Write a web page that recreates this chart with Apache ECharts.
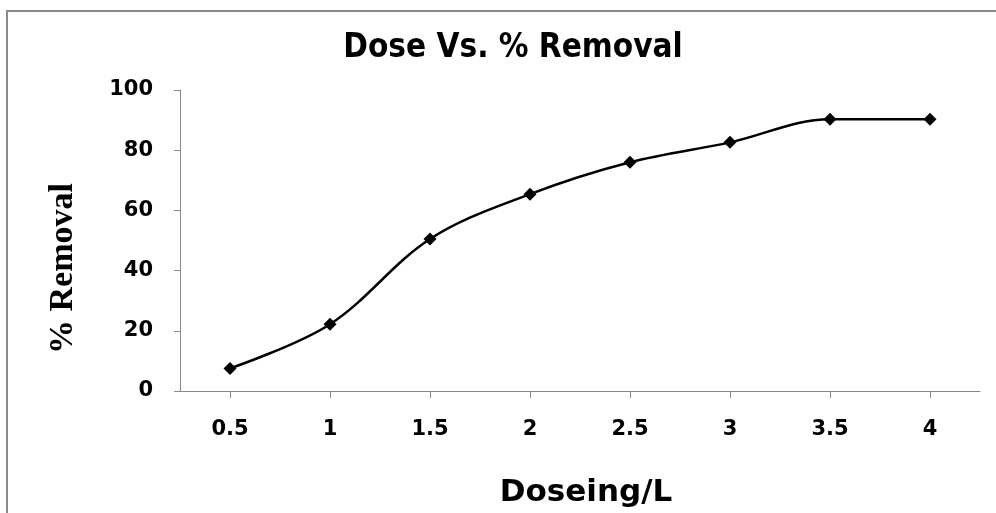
<!DOCTYPE html>
<html>
<head>
<meta charset="utf-8">
<script src="https://cdn.jsdelivr.net/npm/echarts@6/dist/echarts.min.js"></script>
<style>
  html, body { margin: 0; padding: 0; background: #fff; }
  #chart { width: 996px; height: 513px; }
</style>
</head>
<body>
<div id="chart"></div>
<script>
// Dose (g/L) against percentage removal
const doses = ['0.5', '1', '1.5', '2', '2.5', '3', '3.5', '4'];
const removal = [7.5, 22.2, 50.5, 65.4, 76.0, 82.6, 90.3, 90.3];
const yTicks = [0, 20, 40, 60, 80, 100];

const labelFont = {
  color: '#000',
  fontFamily: 'DejaVu Sans',
  fontWeight: 'bold',
  fontSize: 21
};

const chart = echarts.init(document.getElementById('chart'), null, { renderer: 'canvas' });

chart.setOption({
  backgroundColor: '#fff',
  animation: false,
  graphic: [{
    type: 'rect',
    silent: true,
    shape: { x: 7, y: 11, width: 1020, height: 540 },
    style: { fill: 'none', stroke: '#8a8a8a', lineWidth: 2 }
  }],
  title: {
    text: 'Dose Vs. % Removal',
    left: 508,
    textAlign: 'center',
    top: 27,
    textStyle: {
      color: '#000',
      fontFamily: 'DejaVu Sans Condensed',
      fontWeight: 'bold',
      fontSize: 33
    }
  },
  grid: { left: 180, right: 16, top: 90, bottom: 120, containLabel: false },
  xAxis: {
    type: 'category',
    data: doses,
    boundaryGap: true,
    name: 'Doseing/L',
    nameLocation: 'middle',
    nameGap: 86,
    nameTextStyle: {
      color: '#000',
      fontFamily: 'DejaVu Sans',
      fontWeight: 'bold',
      fontSize: 31,
      padding: [0, 0, 0, 12]
    },
    axisLine: { show: true, lineStyle: { color: '#888', width: 1 } },
    axisTick: { show: true, alignWithLabel: true, length: 7, lineStyle: { color: '#888' } },
    axisLabel: Object.assign({ margin: 28 }, labelFont),
    splitLine: { show: false }
  },
  yAxis: {
    type: 'value',
    min: yTicks[0],
    max: yTicks[yTicks.length - 1],
    interval: yTicks[1] - yTicks[0],
    name: '% Removal',
    nameLocation: 'middle',
    nameGap: 100,
    nameRotate: 90,
    nameTextStyle: {
      color: '#000',
      fontFamily: 'Liberation Serif',
      fontWeight: 'bold',
      fontSize: 34,
      padding: [0, 56, 0, 0]
    },
    axisLine: { show: true, lineStyle: { color: '#888', width: 1 } },
    axisTick: { show: true, length: 6, lineStyle: { color: '#888' } },
    axisLabel: Object.assign({ margin: 27 }, labelFont),
    splitLine: { show: false }
  },
  series: [{
    type: 'line',
    data: removal,
    smooth: 0.35,
    symbol: 'diamond',
    symbolSize: 13,
    itemStyle: { color: '#000' },
    lineStyle: { color: '#000', width: 2.5 }
  }]
});
</script>
</body>
</html>
